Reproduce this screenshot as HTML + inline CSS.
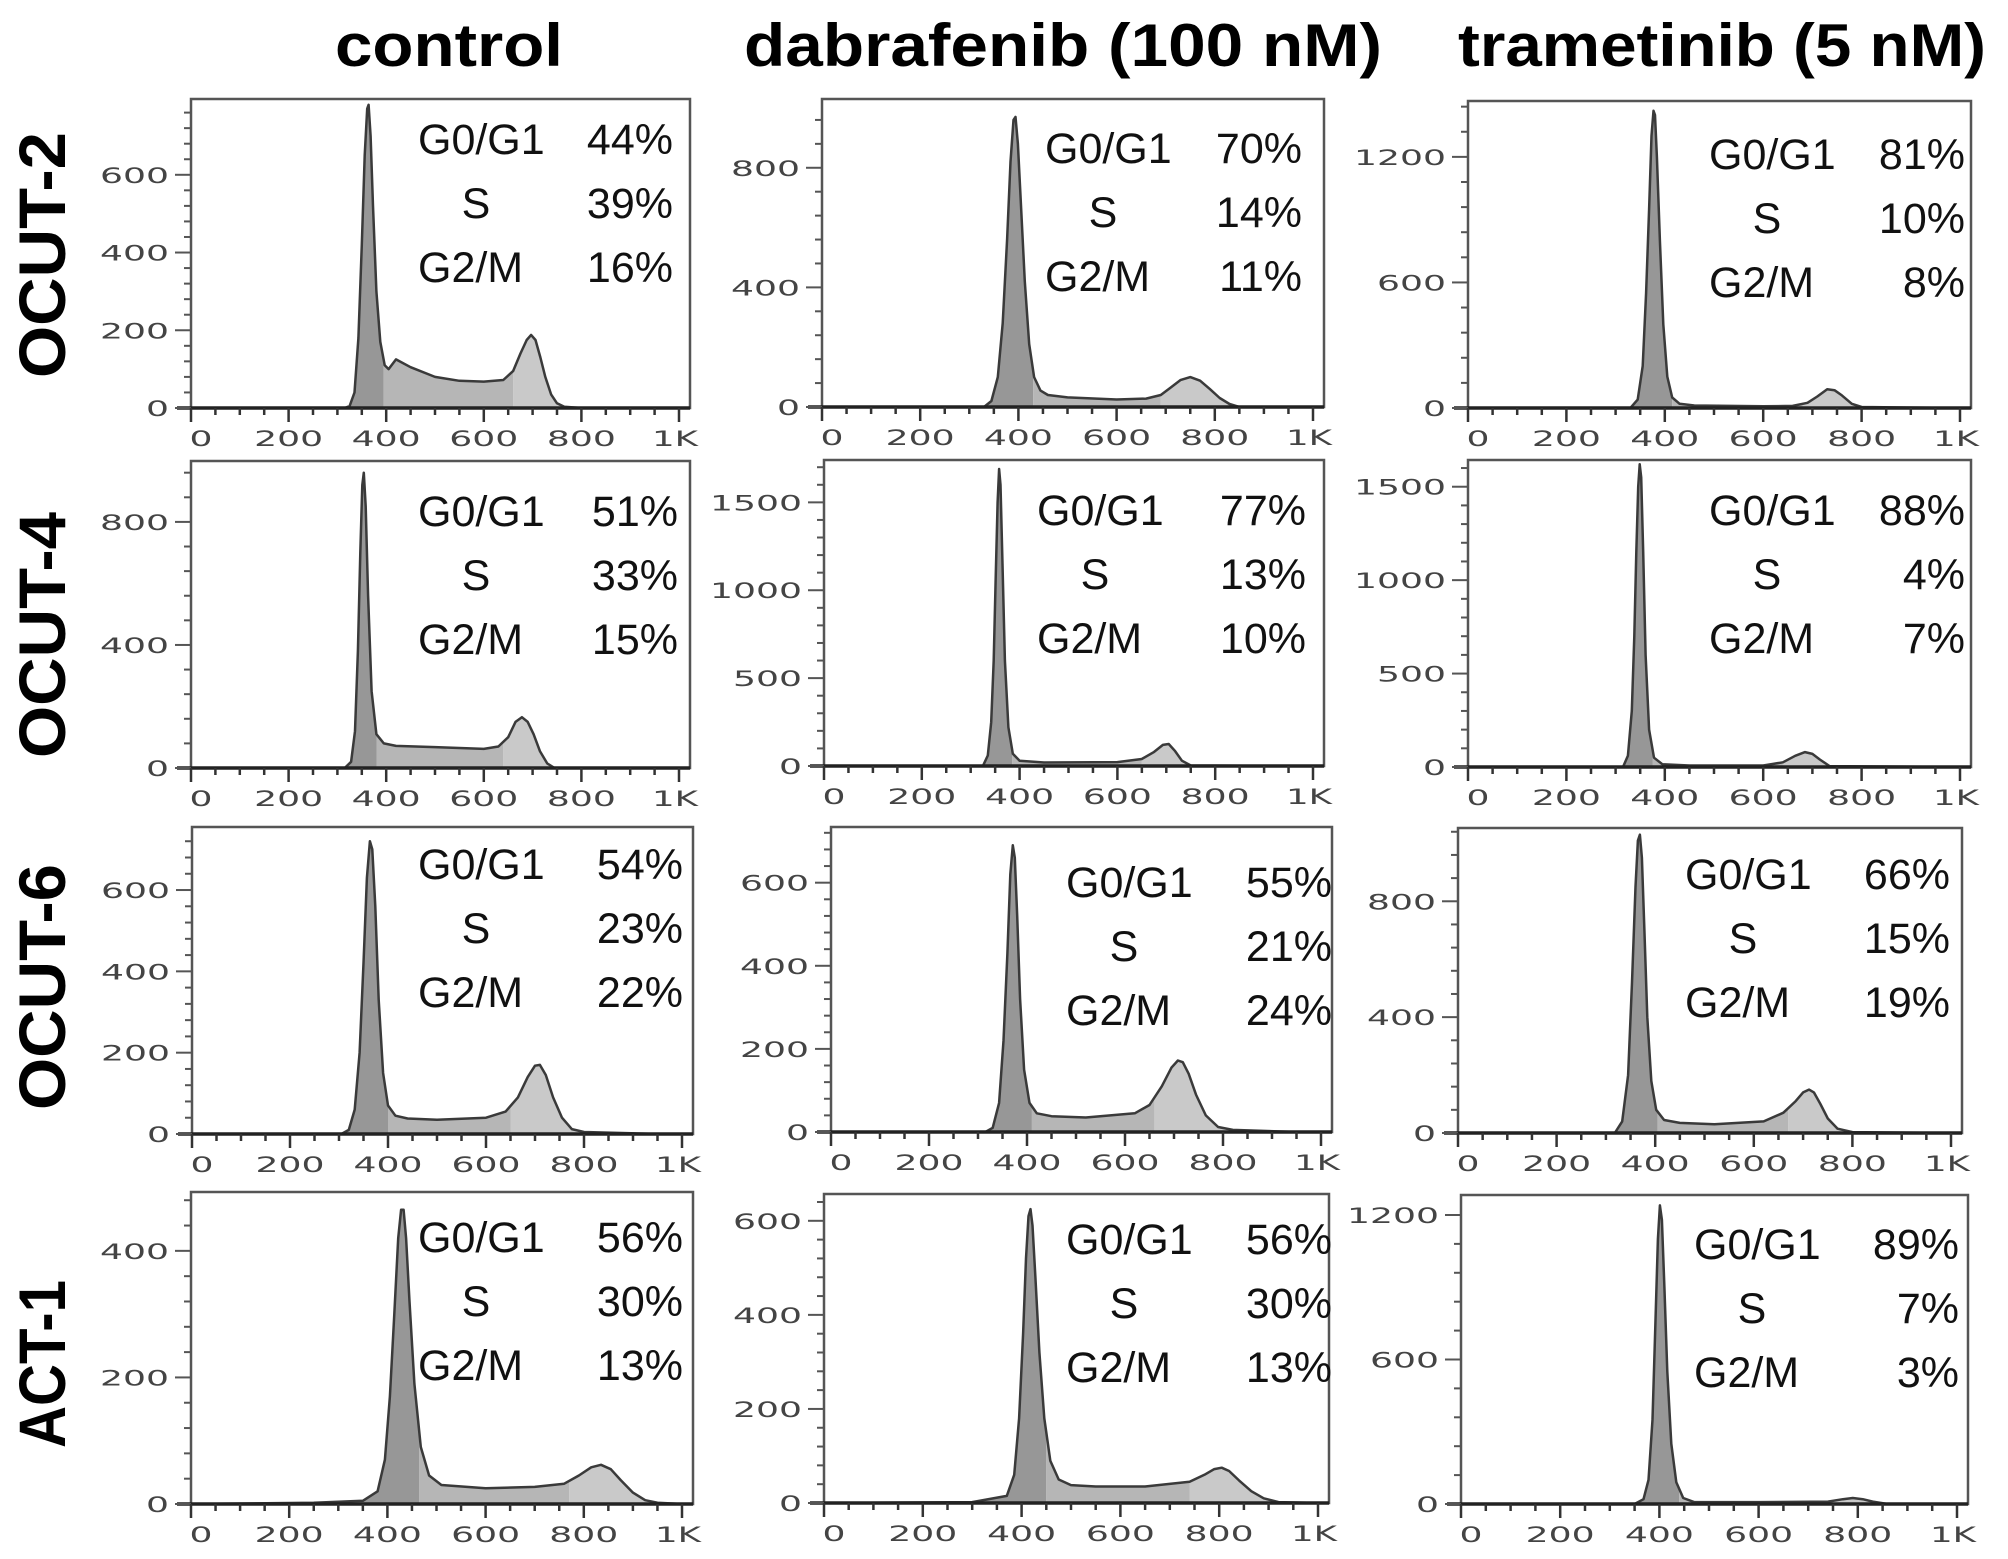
<!DOCTYPE html>
<html><head><meta charset="utf-8">
<style>
html,body{margin:0;padding:0;background:#fff;}
svg{display:block;}
.title{font-family:"Liberation Sans",sans-serif;font-weight:bold;font-size:60px;fill:#000;}
.rowlab{font-family:"Liberation Sans",sans-serif;font-weight:bold;font-size:66px;fill:#000;}
.tick{font-family:"DejaVu Sans","Liberation Sans",sans-serif;font-size:21px;fill:#444;}
.stat{font-family:"Liberation Sans",sans-serif;font-size:43px;fill:#111;}
</style></head>
<body>
<svg id="fig" width="2008" height="1559" viewBox="0 0 2008 1559" xmlns="http://www.w3.org/2000/svg">
<text class="title" x="335" y="66" textLength="228" lengthAdjust="spacingAndGlyphs">control</text>
<text class="title" x="744" y="66" textLength="638" lengthAdjust="spacingAndGlyphs">dabrafenib (100  nM)</text>
<text class="title" x="1458" y="66" textLength="528" lengthAdjust="spacingAndGlyphs">trametinib (5  nM)</text>
<text class="rowlab" transform="translate(65,378) rotate(-90)" textLength="246" lengthAdjust="spacingAndGlyphs">OCUT-2</text>
<text class="rowlab" transform="translate(65,758) rotate(-90)" textLength="246" lengthAdjust="spacingAndGlyphs">OCUT-4</text>
<text class="rowlab" transform="translate(65,1110) rotate(-90)" textLength="246" lengthAdjust="spacingAndGlyphs">OCUT-6</text>
<text class="rowlab" transform="translate(65,1448) rotate(-90)" textLength="168" lengthAdjust="spacingAndGlyphs">ACT-1</text>
</svg>
<script>
// ---- data: DNA content histograms (channel, count) ----
const ocut2_ctrl_x = [0,315,325,335,343,350,356,361,364,368,373,380,388,397,405,420,450,500,550,600,640,660,675,688,697,706,716,726,738,750,765,800,1000];
const ocut2_ctrl_y = [0,0,5,40,180,420,650,770,780,700,520,300,170,110,100,125,105,80,70,68,72,95,140,175,188,175,130,80,35,12,3,0,0];
const ocut2_dab_x = [0,330,345,358,368,377,384,390,394,399,405,413,422,432,445,460,500,600,660,690,710,730,750,770,790,810,830,850,1000];
const ocut2_dab_y = [0,0,20,100,280,560,820,960,970,880,680,420,210,100,55,40,32,25,28,40,65,90,100,88,60,30,10,0,0];
const ocut2_tra_x = [0,330,345,355,362,368,373,377,380,384,390,397,405,415,430,460,600,660,690,710,730,745,760,780,800,1000];
const ocut2_tra_y = [0,0,40,200,550,950,1300,1420,1400,1200,800,400,150,50,20,12,8,10,25,55,90,85,60,20,5,0];
const ocut4_ctrl_x = [0,315,328,336,342,347,351,354,358,363,370,380,395,420,500,600,630,650,665,678,690,702,715,730,745,1000];
const ocut4_ctrl_y = [0,0,20,120,380,700,920,960,850,560,250,110,80,72,68,62,70,100,150,165,150,110,55,15,0,0];
const ocut4_dab_x = [0,325,335,342,347,351,355,358,361,365,370,377,386,400,450,600,650,675,693,705,718,732,750,1000];
const ocut4_dab_y = [0,0,60,250,600,1050,1500,1690,1600,1150,600,220,70,30,20,22,40,80,120,125,85,30,3,0];
const ocut4_tra_x = [0,315,325,333,338,342,346,349,352,356,361,368,378,395,450,600,640,665,685,700,715,735,1000];
const ocut4_tra_y = [0,0,60,300,700,1150,1500,1620,1550,1150,600,200,50,15,8,8,25,60,80,70,40,5,0];
const ocut6_ctrl_x = [0,305,320,332,342,350,357,363,368,374,381,390,400,415,440,500,600,640,665,685,700,710,722,737,755,775,800,950,1000];
const ocut6_ctrl_y = [0,0,10,60,200,420,630,720,700,560,330,150,70,45,38,35,40,55,90,140,168,170,145,90,40,12,5,0,0];
const ocut6_dab_x = [0,315,330,343,352,360,366,371,375,380,386,394,405,420,450,520,620,650,675,695,708,718,730,745,765,790,820,950,1000];
const ocut6_dab_y = [0,0,10,70,220,430,620,690,660,520,320,150,70,45,38,35,45,65,110,155,172,168,140,90,40,12,5,0,0];
const ocut6_tra_x = [0,318,333,345,353,360,365,369,373,378,384,392,402,418,450,520,620,660,685,700,712,722,735,750,770,800,1000];
const ocut6_tra_y = [0,0,40,200,520,850,1010,1030,950,700,400,180,80,45,35,30,40,70,110,140,150,140,100,50,15,3,0];
const act1_ctrl_x = [0,250,350,380,395,405,414,422,428,433,438,445,455,468,485,510,600,700,760,790,815,835,855,875,900,925,950,1000];
const act1_ctrl_y = [0,2,5,20,70,170,300,420,465,465,420,320,190,90,45,30,25,27,32,45,58,62,55,38,18,6,2,0];
const act1_dab_x = [0,300,370,385,395,403,409,414,418,422,428,436,446,458,475,500,550,650,740,770,790,805,820,840,865,890,920,1000];
const act1_dab_y = [0,2,15,60,180,360,520,610,625,590,480,320,180,90,50,38,35,35,45,60,72,75,68,48,25,10,2,0];
const act1_tra_x = [0,350,368,378,386,392,397,401,405,410,416,424,434,448,470,600,740,770,790,810,830,860,1000];
const act1_tra_y = [0,0,20,100,350,750,1100,1240,1180,900,550,250,90,25,8,8,10,20,25,20,10,0,0];

// axis maxima and tick labels
const yMaxes = [795,1030,1467, 998,1741,1643, 755,734,1053, 493,657,1283];
const yTicks = [[0,200,400,600],[0,400,800],[0,600,1200],
                [0,400,800],[0,500,1000,1500],[0,500,1000,1500],
                [0,200,400,600],[0,200,400,600],[0,400,800],
                [0,200,400],[0,200,400,600],[0,600,1200]];
const xTickVals = [0,200,400,600,800,1000];
const xTickLabels = ["0","200","400","600","800","1K"];
// phase percentages
const pctG1 = ["44%","70%","81%","51%","77%","88%","54%","55%","66%","56%","56%","89%"];
const pctS  = ["39%","14%","10%","33%","13%","4%","23%","21%","15%","30%","30%","7%"];
const pctG2 = ["16%","11%","8%","15%","10%","7%","22%","24%","19%","13%","13%","3%"];
// phase boundaries (channel)
const g1End = [395,430,415,380,385,375,400,410,405,465,450,440];
const g2Start = [660,690,680,640,650,640,650,660,670,770,740,750];

const seriesX = [ocut2_ctrl_x,ocut2_dab_x,ocut2_tra_x,ocut4_ctrl_x,ocut4_dab_x,ocut4_tra_x,ocut6_ctrl_x,ocut6_dab_x,ocut6_tra_x,act1_ctrl_x,act1_dab_x,act1_tra_x];
const seriesY = [ocut2_ctrl_y,ocut2_dab_y,ocut2_tra_y,ocut4_ctrl_y,ocut4_dab_y,ocut4_tra_y,ocut6_ctrl_y,ocut6_dab_y,ocut6_tra_y,act1_ctrl_y,act1_dab_y,act1_tra_y];
const panelNames = ["ocut-2-control","ocut-2-dabrafenib","ocut-2-trametinib","ocut-4-control","ocut-4-dabrafenib","ocut-4-trametinib","ocut-6-control","ocut-6-dabrafenib","ocut-6-trametinib","act-1-control","act-1-dabrafenib","act-1-trametinib"];

// layout (pixels)
const boxes = [[191,99,690,408],[822,99,1324,407],[1468,101,1971,408],
               [191,461,690,768],[824,460,1324,766],[1468,460,1971,767],
               [192,827,693,1134],[831,827,1332,1132],[1458,828,1962,1133],
               [191,1192,693,1504],[824,1194,1329,1503],[1461,1195,1968,1504]];
const textPos = [[418,673,40],[1045,1302,49],[1709,1965,53],
                 [418,678,50],[1037,1306,50],[1709,1965,50],
                 [418,683,37],[1066,1332,55],[1685,1950,46],
                 [418,683,45],[1066,1332,45],[1694,1959,49]];

const NS = "http://www.w3.org/2000/svg";
const svg = document.getElementById("fig");
function mk(tag, attrs, parent){
  const e = document.createElementNS(NS, tag);
  for (const k in attrs) e.setAttribute(k, attrs[k]);
  (parent||svg).appendChild(e);
  return e;
}

for (let p = 0; p < 12; p++) {
  const [L,T,R,B] = boxes[p];
  const xs = v => L + (v/1000) * (R - 11 - L);
  const ys = v => B - (v / yMaxes[p]) * (B - T);
  const g = mk("g", {});
  
  

  const cid = "clip" + p;
  let d = "M" + xs(seriesX[p][0]) + "," + ys(0);
  for (let i = 0; i < seriesX[p].length; i++) d += " L" + xs(seriesX[p][i]).toFixed(1) + "," + ys(seriesY[p][i]).toFixed(1);
  d += " L" + xs(1000) + "," + ys(0) + " Z";

  const phases = [[0, g1End[p], "#979797", "g1-area"], [g1End[p], g2Start[p], "#b6b6b6", "s-phase-area"], [g2Start[p], 1000, "#c9c9c9", "g2m-area"]];
  phases.forEach((ph, k) => {
    const pc = mk("clipPath", {id: cid + "_" + k}, g);
    mk("rect", {x: xs(ph[0]), y: T, width: Math.max(0, xs(ph[1]) - xs(ph[0])), height: B - T}, pc);
    const a = mk("path", {d: d, fill: ph[2], "clip-path": "url(#" + cid + "_" + k + ")"}, g);
    
    
  });
  const line = mk("path", {d: d, fill: "none", stroke: "#3a3a3a", "stroke-width": 2.5, "stroke-linejoin": "round"}, g);
  
  

  const box = mk("rect", {x:L, y:T, width:R-L, height:B-T, fill:"none", stroke:"#555", "stroke-width":2.5}, g);
  
  
  mk("line", {x1:L-14, y1:B, x2:R, y2:B, stroke:"#222", "stroke-width":3.5}, g);

  const yt = yTicks[p];
  const step = yt[1] - yt[0];
  for (let v = 0; v <= yMaxes[p]; v += step/5) {
    const major = Math.abs(v/step - Math.round(v/step)) < 1e-6;
    mk("line", {x1: L - (major ? 16 : 7), y1: ys(v), x2: L, y2: ys(v), stroke:"#555", "stroke-width": 2}, g);
  }
  yt.forEach(v => {
    const s = String(v);
    const t = mk("text", {class:"tick", x: L - 22, y: ys(v) + 8, "text-anchor":"end", textLength: 23*s.length, lengthAdjust:"spacingAndGlyphs"}, g);
    t.textContent = s;
    
    
  });
  for (let v = 0; v <= 1000; v += 50) {
    const major = v % 200 === 0;
    mk("line", {x1: xs(v), y1: B, x2: xs(v), y2: B + (major ? 14 : 7), stroke:"#333", "stroke-width": 2.5}, g);
  }
  xTickVals.forEach((v, i) => {
    const s = xTickLabels[i];
    let cx = xs(v);
    if (i === 0) cx += 10;
    if (i === xTickVals.length - 1) cx -= 4;
    const t = mk("text", {class:"tick", x: cx, y: B + 38, "text-anchor":"middle", textLength: 23*s.length, lengthAdjust:"spacingAndGlyphs"}, g);
    t.textContent = s;
    
    
  });

  const [tl, tr, to] = textPos[p];
  const rows = [["G0/G1", pctG1[p], "g1"], ["S", pctS[p], "s"], ["G2/M", pctG2[p], "g2m"]];
  rows.forEach((r, i) => {
    const yb = T + to + i*64 + 15;
    const lab = mk("text", {class:"stat", x: i === 1 ? tl + 58 : tl, y: yb, "text-anchor": i === 1 ? "middle" : "start"}, g);
    lab.textContent = r[0];
    
    
    const pv = mk("text", {class:"stat", x: tr, y: yb, "text-anchor":"end"}, g);
    pv.textContent = r[1];
    
    
  });
}
</script>
</body></html>
